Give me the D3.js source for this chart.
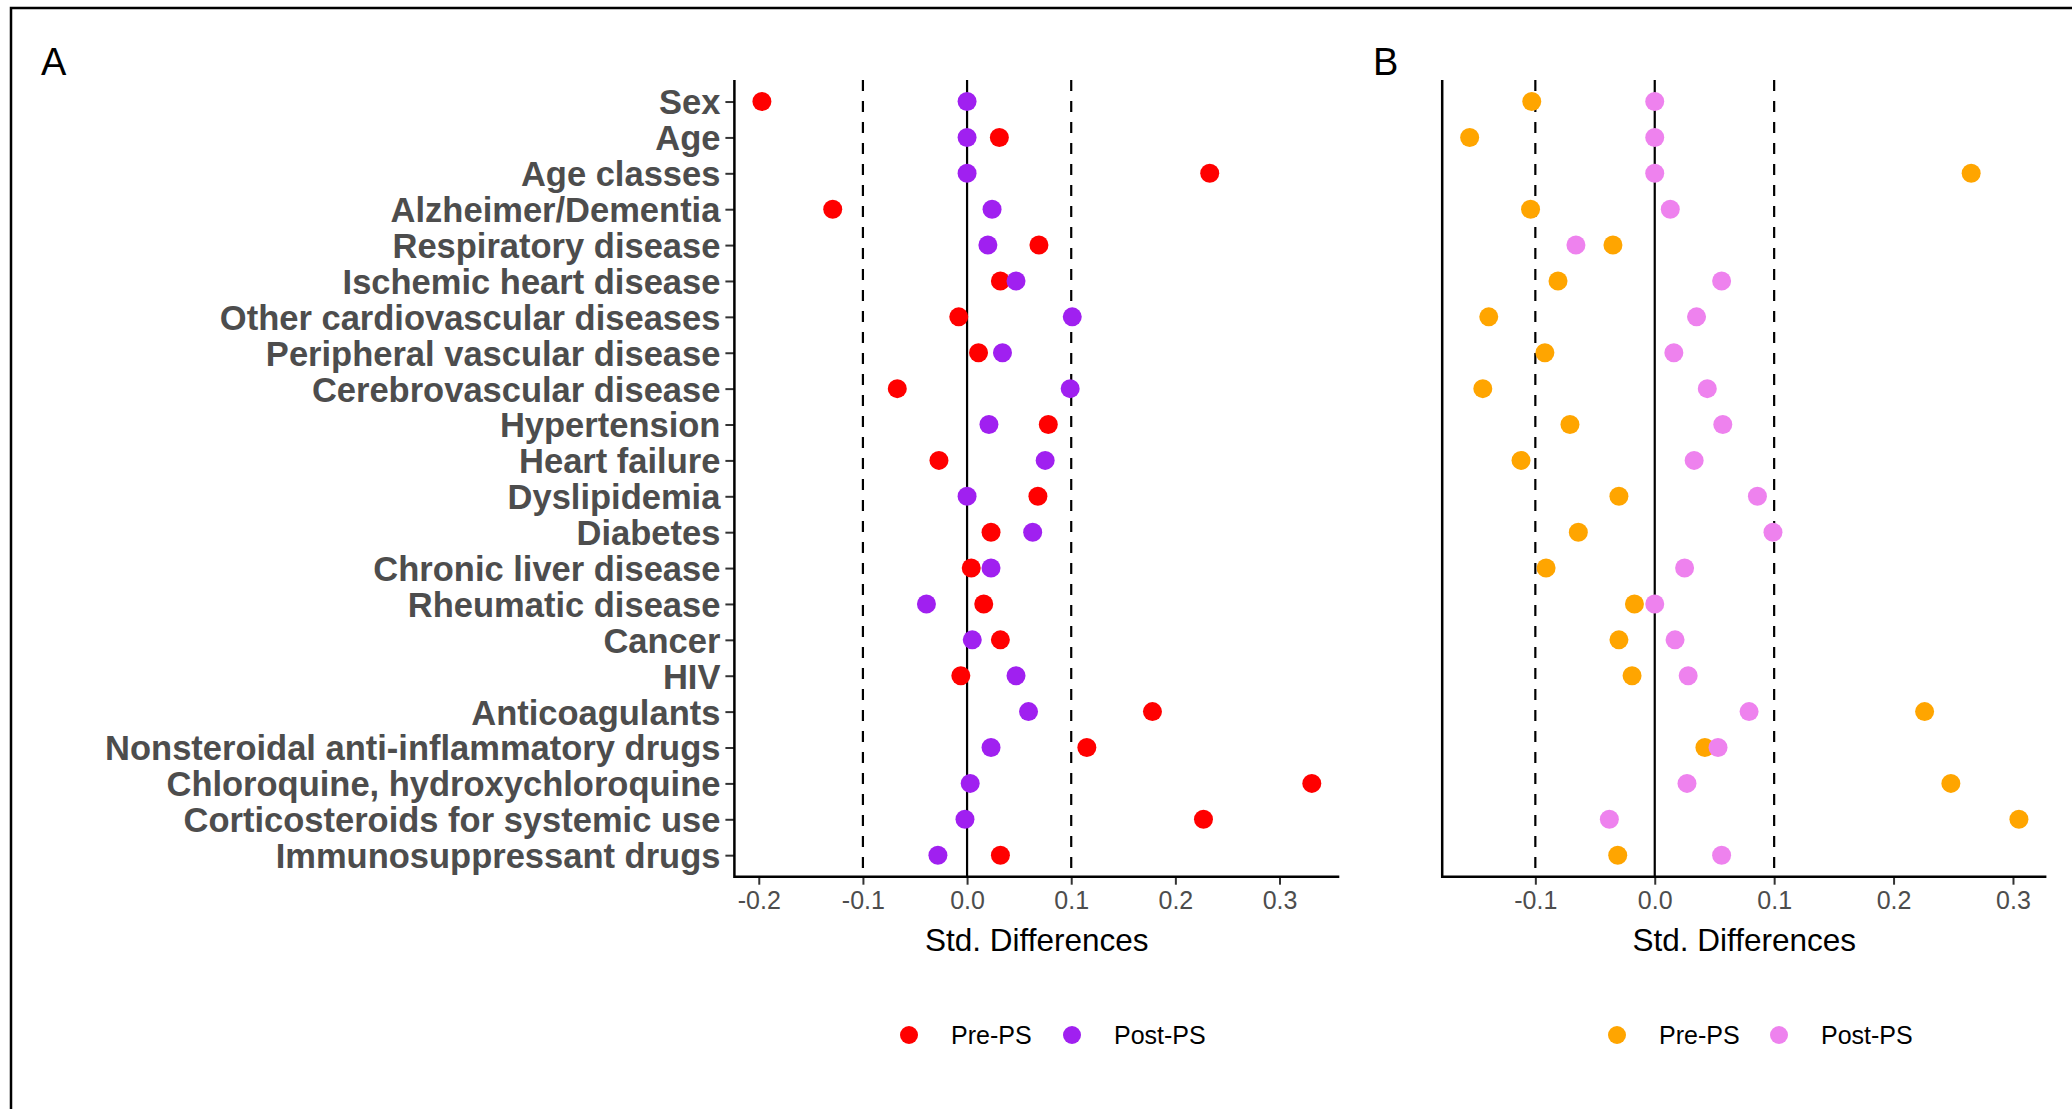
<!DOCTYPE html>
<html>
<head>
<meta charset="utf-8">
<script src="https://cdn.jsdelivr.net/npm/d3@7"></script>
<style>
  body { margin: 0; background: #fff; }
  text { font-family: "Liberation Sans", Arial, sans-serif; }
  .ylab text { font-weight: bold; fill: #4d4d4d; font-size: 34.5px; }
  .xax text { fill: #4d4d4d; font-size: 25px; }
  .xax line, .ylab line { stroke: #333; stroke-width: 2px; }
  .xax path, .ylab path { display: none; }
</style>
</head>
<body>
<script>
    var W = 2072, H = 1109;

    var categories = ["Sex", "Age", "Age classes", "Alzheimer/Dementia", "Respiratory disease",
      "Ischemic heart disease", "Other cardiovascular diseases", "Peripheral vascular disease",
      "Cerebrovascular disease", "Hypertension", "Heart failure", "Dyslipidemia", "Diabetes",
      "Chronic liver disease", "Rheumatic disease", "Cancer", "HIV", "Anticoagulants",
      "Nonsteroidal anti-inflammatory drugs", "Chloroquine, hydroxychloroquine",
      "Corticosteroids for systemic use", "Immunosuppressant drugs"];

    // panel A
    var preA  = [-0.197, 0.031, 0.233, -0.129, 0.069, 0.032, -0.008, 0.011, -0.067, 0.078, -0.027,
                 0.068, 0.023, 0.004, 0.016, 0.032, -0.006, 0.178, 0.115, 0.331, 0.227, 0.032];
    var postA = [0.000, 0.000, 0.000, 0.024, 0.020, 0.047, 0.101, 0.034, 0.099, 0.021, 0.075,
                 0.000, 0.063, 0.023, -0.039, 0.005, 0.047, 0.059, 0.023, 0.003, -0.002, -0.028];
    // panel B
    var preB  = [-0.103, -0.155, 0.265, -0.104, -0.035, -0.081, -0.139, -0.092, -0.144, -0.071, -0.112,
                 -0.030, -0.064, -0.091, -0.017, -0.030, -0.019, 0.226, 0.042, 0.248, 0.305, -0.031];
    var postB = [0.000, 0.000, 0.000, 0.013, -0.066, 0.056, 0.035, 0.016, 0.044, 0.057, 0.033,
                 0.086, 0.099, 0.025, 0.000, 0.017, 0.028, 0.079, 0.053, 0.027, -0.038, 0.056];

    var ticksA = [-0.2, -0.1, 0.0, 0.1, 0.2, 0.3];
    var ticksB = [-0.1, 0.0, 0.1, 0.2, 0.3];
    var refLines = [-0.1, 0.1];
    var legendLabels = ["Pre-PS", "Post-PS"];

    var svg = d3.select("body").append("svg")
      .attr("width", W)
      .attr("height", H);

    svg.append("rect").attr("width", W).attr("height", H).attr("fill", "#fff");

    // outer frame (only top and left visible)
    svg.append("path")
      .attr("d", "M11,1109 V8 H2072")
      .attr("fill", "none")
      .attr("stroke", "#000")
      .attr("stroke-width", 2.5);

    var plotTop = 80, plotBottom = 876.7;

    var y = d3.scalePoint()
      .domain(categories)
      .range([plotTop, plotBottom])
      .padding(0.6);

    function expand(vals) {
      var e = d3.extent(vals);
      var pad = (e[1] - e[0]) * 0.05;
      return [e[0] - pad, e[1] + pad];
    }

    function fmt(d) { return d.toFixed(1); }

    function drawPanel(opt) {
      var x = d3.scaleLinear()
        .domain(expand(opt.pre.concat(opt.post)))
        .range([opt.left, opt.right]);

      var g = svg.append("g");

      //reference lines
      g.selectAll(".ref")
        .data(refLines)
        .enter().append("line")
        .attr("x1", function(d) { return x(d); })
        .attr("x2", function(d) { return x(d); })
        .attr("y1", plotTop).attr("y2", plotBottom)
        .attr("stroke", "#000")
        .attr("stroke-width", 2.2)
        .attr("stroke-dasharray", "11,10");

      g.append("line")
        .attr("x1", x(0)).attr("x2", x(0))
        .attr("y1", plotTop).attr("y2", plotBottom)
        .attr("stroke", "#000")
        .attr("stroke-width", 2.2);

      //x axis
      g.append("g")
        .attr("class", "xax")
        .attr("transform", "translate(0," + plotBottom + ")")
        .call(d3.axisBottom(x).tickValues(opt.ticks).tickFormat(fmt).tickSize(8).tickPadding(7));

      //y axis
      if (opt.labels) {
        g.append("g")
          .attr("class", "ylab")
          .attr("transform", "translate(" + opt.left + ",0)")
          .call(d3.axisLeft(y).tickSize(9).tickPadding(5))
          .selectAll("text").attr("dy", "0.36em");
      }

      //axis lines
      g.append("path")
        .attr("d", "M" + opt.left + "," + plotTop + " V" + plotBottom + " H" + opt.right)
        .attr("fill", "none")
        .attr("stroke", "#000")
        .attr("stroke-width", 2.5);

      //points, pre first then post on top
      [[opt.pre, opt.colors[0]], [opt.post, opt.colors[1]]].forEach(function(s) {
        g.append("g").selectAll("circle")
          .data(s[0])
          .enter().append("circle")
          .attr("cx", function(d) { return x(d); })
          .attr("cy", function(d, i) { return y(categories[i]); })
          .attr("r", 9.5)
          .attr("fill", s[1]);
      });

      //axis title
      g.append("text")
        .attr("x", (opt.left + opt.right) / 2)
        .attr("y", 951)
        .attr("text-anchor", "middle")
        .attr("font-size", 31.5)
        .attr("fill", "#000")
        .text("Std. Differences");

      //panel tag
      g.append("text")
        .attr("x", opt.tagX)
        .attr("y", 75)
        .attr("font-size", 38)
        .attr("fill", "#000")
        .text(opt.tag);

      //legend
      var lg = g.append("g");
      opt.legendX.forEach(function(lx, i) {
        lg.append("circle")
          .attr("cx", lx).attr("cy", 1035).attr("r", 9)
          .attr("fill", opt.colors[i]);
        lg.append("text")
          .attr("x", lx + 42).attr("y", 1035)
          .attr("dy", "0.36em")
          .attr("font-size", 25)
          .attr("fill", "#000")
          .text(legendLabels[i]);
      });
    }

    drawPanel({
      pre: preA, post: postA, colors: ["#FF0000", "#A020F0"],
      left: 734.4, right: 1339.3, ticks: ticksA, labels: true,
      tag: "A", tagX: 41, legendX: [909, 1072]
    });

    drawPanel({
      pre: preB, post: postB, colors: ["#FFA500", "#EE82EE"],
      left: 1442.2, right: 2046.4, ticks: ticksB, labels: false,
      tag: "B", tagX: 1373, legendX: [1617, 1779]
    });
</script>
</body>
</html>
